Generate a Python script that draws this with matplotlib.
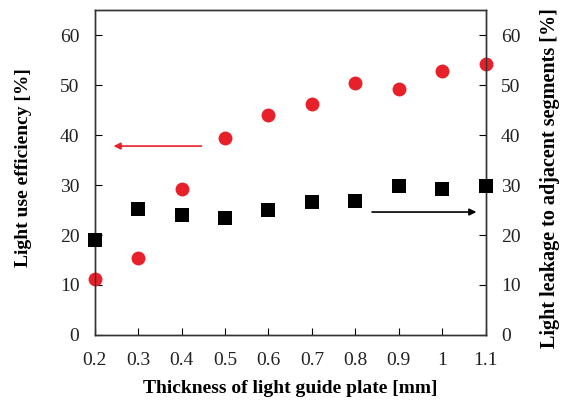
import matplotlib
matplotlib.use("Agg")
import matplotlib.pyplot as plt

thickness = [0.2, 0.3, 0.4, 0.5, 0.6, 0.7, 0.8, 0.9, 1.0, 1.1]
efficiency = [11.1, 15.5, 29.3, 39.5, 44.1, 46.3, 50.5, 49.2, 52.8, 54.3]
leakage = [19.1, 25.2, 24.0, 23.5, 25.0, 26.7, 26.8, 29.9, 29.3, 29.8]
xtick_labels = ["0.2", "0.3", "0.4", "0.5", "0.6", "0.7", "0.8", "0.9", "1", "1.1"]
yticks = [0, 10, 20, 30, 40, 50, 60]

plt.rcParams['font.family'] = ['Liberation Serif', 'DejaVu Serif']

fig = plt.figure(figsize=(5.65, 4.07), dpi=100)
ax = fig.add_axes([0.1676, 0.177, 0.692, 0.798])
ax2 = ax.twinx()

ax.scatter(thickness, efficiency, s=100, color='#e8202a', marker='o', zorder=3, clip_on=False, linewidths=0)
ax2.scatter(thickness, leakage, s=95, color='black', marker='s', zorder=3, clip_on=False, linewidths=0)

for a in (ax, ax2):
    a.set_xlim(0.2, 1.1)
    a.set_ylim(0, 65)
    a.set_yticks(yticks)
    for s in a.spines.values():
        s.set_linewidth(1.0)
        s.set_color('#333333')

ax.set_xticks(thickness)
ax.set_xticklabels(xtick_labels)
ax.tick_params(axis='x', direction='in', length=5, labelsize=14, pad=12, top=False, labelcolor='#222222')
ax.tick_params(axis='y', direction='in', length=5, labelsize=14, pad=11, labelcolor='#222222')
ax2.tick_params(axis='y', direction='in', length=5, labelsize=14, pad=11, labelcolor='#222222')

ax.set_xlabel("Thickness of light guide plate [mm]", fontsize=14, fontweight='bold', labelpad=8)
ax.set_ylabel("Light use efficiency [%]", fontsize=14, fontweight='bold')
ax.yaxis.set_label_coords(-0.16, 0.514)
ax2.set_ylabel("Light leakage to adjacent segments [%]", fontsize=14.5, fontweight='bold')
ax2.yaxis.set_label_coords(1.139, 0.483)

ax.annotate("", xy=(0.237, 37.8), xytext=(0.452, 37.8),
            arrowprops=dict(arrowstyle='-|>', color='#e8202a', lw=1.2, mutation_scale=10))
ax2.annotate("", xy=(1.085, 24.6), xytext=(0.832, 24.6),
             arrowprops=dict(arrowstyle='-|>', color='black', lw=1.2, mutation_scale=10))

fig.savefig("out.png", dpi=100)
